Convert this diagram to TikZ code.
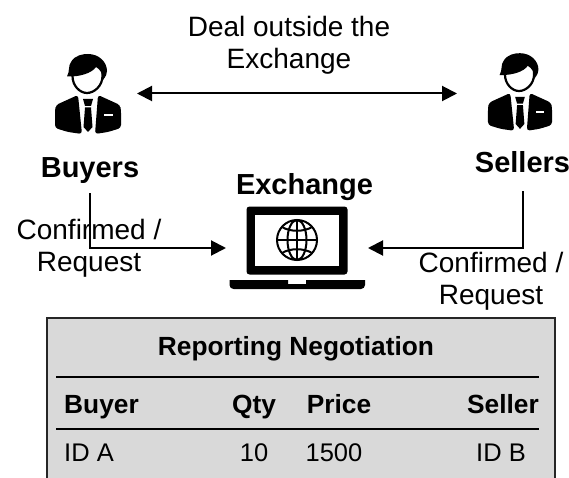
\documentclass[tikz,border=0pt]{standalone}
\usepackage{fontspec}
\setmainfont{Liberation Sans}
\usetikzlibrary{calc,arrows.meta}
\definecolor{panelgray}{HTML}{D9D9D9}
\tikzset{
    big/.style={font=\fontsize{28}{32}\selectfont,align=center,inner sep=0pt},
    bigbold/.style={font=\fontsize{29}{32}\selectfont\bfseries,inner sep=0pt,anchor=base},
    cell/.style={font=\fontsize{25.5}{30}\selectfont,inner sep=0pt},
    cellbold/.style={font=\fontsize{26.3}{30}\selectfont\bfseries,inner sep=0pt},
    iconbox/.style={inner sep=0pt,outer sep=0pt},
    link/.style={line width=2pt,-{Triangle[length=15pt,width=15pt]}},
    pics/person/.style={code={
        % body, two halves
        \fill[rounded corners=3pt] (-10,1) -- (-32,11) -- (-33,16) -- (-33,34) -- (-20,38) -- (-6,40) -- cycle;
        \fill[rounded corners=3pt] (10,1) -- (32,11) -- (33,16) -- (33,34) -- (20,38) -- (7,40) -- cycle;
        % tie
        \fill (-5,5) -- (5,5) -- (3,12) -- (-3,12) -- cycle;
        \fill (-3,13.5) -- (3,13.5) -- (4.5,33) -- (0,38) -- (-4.5,33) -- cycle;
        \fill[white] (16,20) rectangle (25,22);
        % head and hair
        \draw[line width=2.2pt,fill=white] (-15.5,-25) -- (-15.5,-18) .. controls (-15.5,-8) and (-8,-1) .. (-1,-1) .. controls (6,-1) and (14.5,-8) .. (14.5,-18) -- (14.5,-25);
        \fill (-21,-17.5) .. controls (-18,-23) and (-20,-28) .. (-17,-32) .. controls (-13,-39) and (-5,-40) .. (0,-40)
            .. controls (11,-40) and (19,-32) .. (19,-23) .. controls (19,-20) and (18,-18) .. (15,-14)
            .. controls (15,-20) and (12,-25) .. (8,-27) .. controls (4,-21) and (-8,-17) .. (-21,-17.5) -- cycle;
    }}
}
\begin{document}
\begin{tikzpicture}[x=1pt,y=-1pt]
    \useasboundingbox (0,0) rectangle (569,478);
    % icons
    \node[iconbox,minimum width=98pt,minimum height=80pt] (buyericon) at (88,93.5) {};
    \node[iconbox,minimum width=126pt,minimum height=77pt] (sellericon) at (520,93.5) {};
    \node[iconbox,minimum width=142pt,minimum height=84pt] (laptop) at (297,248) {};
    \pic at (88,94) {person};
    \pic[scale=0.97] at (520,92) {person};
    % laptop
    \fill[rounded corners=3pt] (246.5,206.5) rectangle (347.5,274.5);
    \fill[white] (255,215) rectangle (339,266);
    \fill (229.5,280) -- (288,280) -- (288,284) -- (306,284) -- (306,280) -- (365,280) -- (365,285)
        arc (0:90:4) -- (233.5,289) arc (90:180:4) -- cycle;
    \begin{scope}[line width=2pt]
        \draw (297,240) circle (20);
        \draw (297,240) ellipse (9.5 and 20);
        \draw (297,220) -- (297,260);
        \draw (277,240) -- (317,240);
        \draw (282,227) .. controls (290,232) and (304,232) .. (312,227);
        \draw (282,253) .. controls (290,248) and (304,248) .. (312,253);
    \end{scope}
    % labels
    \node[big] (dealtext) at (289,45) {Deal outside the\\Exchange};
    \node[bigbold,outer ysep=9pt] (buyers) at (90,178) {Buyers};
    \node[bigbold,outer ysep=18pt] (sellers) at (522.5,173) {Sellers};
    \node[bigbold] (exchange) at (304.5,194) {Exchange};
    \node[big] (leftconfirm) at (89,248.5) {Confirmed /\\Request};
    \node[big] (rightconfirm) at (491,281) {Confirmed /\\Request};
    % connectors
    \draw[line width=2pt,{Triangle[length=15pt,width=15pt]}-{Triangle[length=15pt,width=15pt]}] (buyericon.east) -- (sellericon.west);
    \draw[link] (buyers.south) |- (laptop.west);
    \draw[link] (sellers.south) |- (laptop.east);
    % table
    \fill[panelgray] (47,318) rectangle (555,478);
    \draw[line width=2pt,draw=black!85] (47,478) -- (47,318) -- (555,318) -- (555,478);
    \draw[line width=1.5pt] (56,377) -- (539,377);
    \draw[line width=1.5pt] (56,429) -- (539,429);
    \node[cellbold,anchor=base] (tabletitle) at (296,355) {Reporting Negotiation};
    \node[cellbold,anchor=base west] (buyerhead) at (64,413) {Buyer};
    \node[cellbold,anchor=base] (qtyhead) at (254,413) {Qty};
    \node[cellbold,anchor=base] (pricehead) at (339,413) {Price};
    \node[cellbold,anchor=base east] (sellerhead) at (539,413) {Seller};
    \node[cell,anchor=base west] (buyerid) at (64,461) {ID A};
    \node[cell,anchor=base] (qtyval) at (254,461) {10};
    \node[cell,anchor=base] (priceval) at (334,461) {1500};
    \node[cell,anchor=base east] (sellerid) at (526,461) {ID B};
\end{tikzpicture}
\end{document}
